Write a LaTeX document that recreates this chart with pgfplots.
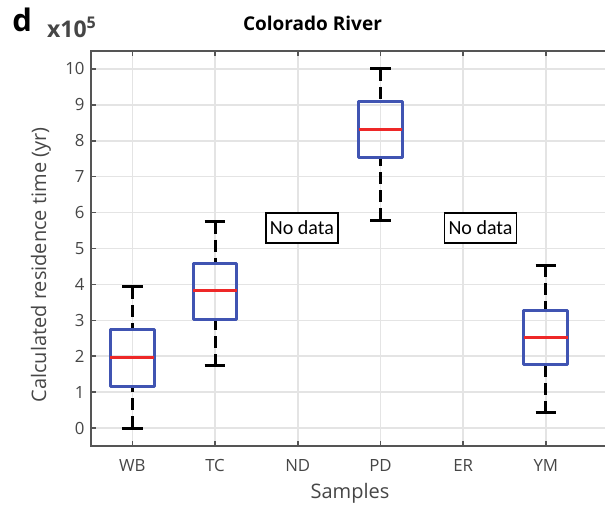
\documentclass[border=0pt]{standalone}
\usepackage{pgfplots}
\pgfplotsset{compat=1.18}
\usepgfplotslibrary{statistics}
\usepackage{fontspec}
\setmainfont{Open Sans}
\newfontfamily\carlito{Carlito}
\definecolor{boxblue}{RGB}{64,84,178}
\definecolor{medred}{RGB}{238,40,40}
\definecolor{txtgray}{RGB}{70,70,70}
\definecolor{spine}{RGB}{85,85,85}
\definecolor{gridc}{RGB}{228,228,228}

\pgfplotsset{
  mybox/.style={
    draw=boxblue, line width=1.5pt, line join=round,
    boxplot/draw direction=y,
    boxplot/box extend=0.53,
    boxplot/whisker extend=0.25,
    boxplot/every box/.style={draw=boxblue, line width=1.5pt, fill=none},
    boxplot/every median/.style={draw=medred, line width=1.5pt},
    boxplot/draw/lower whisker/.code={%
      \draw[black, line width=1.5pt, dash pattern=on 6pt off 3pt]
        (boxplot box cs:\pgfplotsboxplotvalue{lower whisker},0.5) --
        (boxplot box cs:\pgfplotsboxplotvalue{lower quartile},0.5);
      \draw[black, line width=1.5pt]
        (boxplot whisker cs:\pgfplotsboxplotvalue{lower whisker},0) --
        (boxplot whisker cs:\pgfplotsboxplotvalue{lower whisker},1);
    },
    boxplot/draw/upper whisker/.code={%
      \draw[black, line width=1.5pt, dash pattern=on 6pt off 3pt]
        (boxplot box cs:\pgfplotsboxplotvalue{upper whisker},0.5) --
        (boxplot box cs:\pgfplotsboxplotvalue{upper quartile},0.5);
      \draw[black, line width=1.5pt]
        (boxplot whisker cs:\pgfplotsboxplotvalue{upper whisker},0) --
        (boxplot whisker cs:\pgfplotsboxplotvalue{upper whisker},1);
    },
  }
}

\begin{document}
\begin{tikzpicture}[x=1pt,y=1pt]
\path[use as bounding box] (-45.5,-31) rectangle (257,223);
\begin{axis}[
  at={(0,0)}, anchor=south west, scale only axis,
  width=262pt, height=197.5pt,
  xmin=0.5, xmax=6.836, ymin=-0.5, ymax=10.5,
  xtick={1,2,3,4,5,6}, xticklabels={WB,TC,ND,PD,ER,YM},
  ytick={0,1,2,3,4,5,6,7,8,9,10},
  tick align=inside, major tick length=2.5pt,
  grid=major, major grid style={gridc, line width=0.75pt},
  axis line style={spine, line width=1pt},
  tick style={spine, line width=0.75pt},
  /pgf/number format/assume math mode=true,
  ticklabel style={font=\fontsize{8.4}{10}\selectfont, text=txtgray},
  xticklabel style={anchor=base, inner sep=0pt, yshift=-13pt},
  yticklabel style={anchor=east, inner sep=0pt, xshift=-3pt},
]
\addplot[mybox, boxplot prepared={draw position=1, lower whisker=0, lower quartile=1.17, median=1.97, upper quartile=2.75, upper whisker=3.93}] coordinates {};
\addplot[mybox, boxplot prepared={draw position=2, lower whisker=1.73, lower quartile=3.02, median=3.82, upper quartile=4.59, upper whisker=5.75}] coordinates {};
\addplot[mybox, boxplot prepared={draw position=4, lower whisker=5.79, lower quartile=7.53, median=8.31, upper quartile=9.09, upper whisker=10.0}] coordinates {};
\addplot[mybox, boxplot prepared={draw position=6, lower whisker=0.42, lower quartile=1.78, median=2.53, upper quartile=3.26, upper whisker=4.54}] coordinates {};
\node[draw=black, fill=white, line width=0.75pt, font=\carlito\fontsize{10}{12}\selectfont, minimum height=15pt, inner xsep=2pt] at (axis cs:3.05,5.57) {No data};
\node[draw=black, fill=white, line width=0.75pt, font=\carlito\fontsize{10}{12}\selectfont, minimum height=15pt, inner xsep=2pt] at (axis cs:5.21,5.57) {No data};
\end{axis}
\node[anchor=base west, inner sep=0pt, font=\bfseries\fontsize{15.5}{18}\selectfont] at (-39.5,207.15) {d};
\node[anchor=base west, inner sep=0pt, font=\bfseries\fontsize{11.5}{13}\selectfont, text=txtgray] at (-22.15,204.35) {x10\textsuperscript{5}};
\node[anchor=base, inner sep=0pt, font=\bfseries\fontsize{9.5}{11}\selectfont] at (110.75,207.65) {Colorado River};
\node[anchor=base, inner sep=0pt, font=\fontsize{10}{12}\selectfont, text=txtgray] at (129.5,-26.5) {Samples};
\node[rotate=90, inner sep=0pt, font=\fontsize{10}{12}\selectfont, text=txtgray] at (-25,90.5) {Calculated residence time (yr)};
\end{tikzpicture}
\end{document}
